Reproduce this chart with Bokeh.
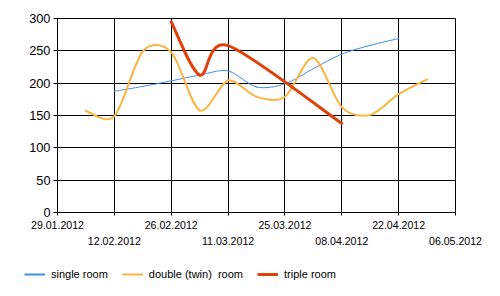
import datetime as dt
from bokeh.plotting import figure
from bokeh.layouts import column
from bokeh.models import (Range1d, FixedTicker, CustomJSTickFormatter, DatetimeAxis,
                          Legend, LegendItem, Grid)
from bokeh.embed import file_html
from bokeh.resources import INLINE

# ---- data ----
tick_labels = ["29.01.2012", "12.02.2012", "26.02.2012", "11.03.2012",
               "25.03.2012", "08.04.2012", "22.04.2012", "06.05.2012"]
y_ticks = [0, 50, 100, 150, 200, 250, 300]

single_dates = ["12.02.2012", "19.02.2012", "26.02.2012", "04.03.2012", "11.03.2012",
                "18.03.2012", "25.03.2012", "01.04.2012", "08.04.2012", "15.04.2012",
                "22.04.2012"]
single_vals = [187.5, 195, 203.5, 212.5, 219, 194, 199, 222.5, 245, 258.5, 269]

double_dates = ["05.02.2012", "12.02.2012", "19.02.2012", "26.02.2012", "04.03.2012",
                "11.03.2012", "18.03.2012", "25.03.2012", "01.04.2012", "08.04.2012",
                "15.04.2012", "22.04.2012", "29.04.2012"]
double_vals = [157, 149, 249, 248, 158, 204, 179, 179, 239, 163, 151, 183, 206]

triple_dates = ["26.02.2012", "04.03.2012", "11.03.2012", "08.04.2012"]
triple_vals = [295, 212.5, 258, 137.6]

BLUE, ORANGE, RED = "#418CF0", "#FCB441", "#E0400A"
FONT = "Liberation Sans"
TENSION = 0.15


def ms(s):
    d = dt.datetime.strptime(s, "%d.%m.%Y")
    return (d - dt.datetime(1970, 1, 1)).total_seconds() * 1000.0


def spline(xs, ys, k=TENSION):
    n = len(xs)
    out = dict(x0=[], y0=[], x1=[], y1=[], cx0=[], cy0=[], cx1=[], cy1=[])
    def tan(i):
        a = max(i - 1, 0)
        b = min(i + 1, n - 1)
        return k * (xs[b] - xs[a]), k * (ys[b] - ys[a])
    for i in range(n - 1):
        t0 = tan(i)
        t1 = tan(i + 1)
        out["x0"].append(xs[i]); out["y0"].append(ys[i])
        out["x1"].append(xs[i + 1]); out["y1"].append(ys[i + 1])
        out["cx0"].append(xs[i] + t0[0]); out["cy0"].append(ys[i] + t0[1])
        out["cx1"].append(xs[i + 1] - t1[0]); out["cy1"].append(ys[i + 1] - t1[1])
    return out


start = ms(tick_labels[0])
end = ms(tick_labels[-1])
tick_ms = [ms(s) for s in tick_labels]

xr = Range1d(start, end)
yr = Range1d(0, 300)
p = figure(width=500, height=260, x_axis_type=None, output_backend="svg",
           toolbar_location=None, x_range=xr, y_range=yr,
           min_border_left=57, min_border_right=45, min_border_top=18, min_border_bottom=48)
p.background_fill_color = "white"
p.border_fill_color = "white"
p.outline_line_color = "black"
p.frame_align = False

# x axes (staggered labels)
fmt_code = """
const i = Math.round((tick - start) / (14 * 86400000));
return (i %% 2 == %d) ? labels[i] : "";
"""
ax1 = DatetimeAxis(ticker=FixedTicker(ticks=tick_ms),
                   formatter=CustomJSTickFormatter(args=dict(start=start, labels=tick_labels), code=fmt_code % 0))
ax1.major_tick_out = 3
ax1.major_tick_in = 0
ax1.minor_tick_out = 0
ax1.minor_tick_in = 0
ax1.major_label_standoff = 5
ax1.axis_line_color = "black"
ax1.major_tick_line_color = "black"
ax1.major_label_text_font = FONT
ax1.major_label_text_font_size = "10.6px"
ax1.major_label_text_color = "black"
p.add_layout(ax1, "below")

ax2 = DatetimeAxis(ticker=FixedTicker(ticks=tick_ms),
                   formatter=CustomJSTickFormatter(args=dict(start=start, labels=tick_labels), code=fmt_code % 1))
ax2.major_tick_out = 0
ax2.major_tick_in = 0
ax2.minor_tick_out = 0
ax2.minor_tick_in = 0
ax2.major_label_standoff = 5
ax2.axis_line_color = None
ax2.major_tick_line_color = None
ax2.major_label_text_font = FONT
ax2.major_label_text_font_size = "10.6px"
ax2.major_label_text_color = "black"
p.add_layout(ax2, "below")

p.yaxis.ticker = FixedTicker(ticks=y_ticks)
p.yaxis.major_tick_out = 4
p.yaxis.major_tick_in = 0
p.yaxis.minor_tick_out = 0
p.yaxis.minor_tick_in = 0
p.yaxis.major_label_standoff = 3
p.yaxis.axis_line_color = "black"
p.yaxis.major_tick_line_color = "black"
p.yaxis.major_label_text_font = FONT
p.yaxis.major_label_text_font_size = "12.8px"
p.yaxis.major_label_text_color = "black"

p.ygrid.grid_line_color = "black"
p.ygrid.grid_line_alpha = 1
p.add_layout(Grid(dimension=0, ticker=FixedTicker(ticks=tick_ms),
                  grid_line_color="black", grid_line_alpha=1))

# legend figure below the chart
lf = figure(width=500, height=36, x_axis_type=None, y_axis_type=None, output_backend="svg",
            toolbar_location=None, x_range=xr, y_range=yr, min_border=0)
lf.outline_line_color = None
lf.xgrid.visible = False
lf.ygrid.visible = False
lf.background_fill_color = "white"
lf.border_fill_color = "white"
lf.frame_align = False

series = [
    ("single room", single_dates, single_vals, BLUE, 1, 2),
    ("double (twin)  room", double_dates, double_vals, ORANGE, 2, 2),
    ("triple room", triple_dates, triple_vals, RED, 3, 3),
]
items = []
for name, dates, vals, col, lw, lw_leg in series:
    xs = [ms(d) for d in dates]
    seg = spline(xs, vals)
    p.bezier(x0="x0", y0="y0", x1="x1", y1="y1", cx0="cx0", cy0="cy0", cx1="cx1", cy1="cy1",
             source=seg, line_color=col, line_width=lw, line_cap="round")
    r = lf.line(x=[xs[0]], y=[vals[0]], line_color=col, line_width=lw_leg)
    items.append(LegendItem(label=name, renderers=[r]))

legend = Legend(items=items, orientation="horizontal", location=(24, 15.5),
                padding=0, margin=0, spacing=14, glyph_width=21, glyph_height=14,
                label_height=14, label_standoff=6, label_text_font=FONT,
                label_text_font_size="11px", label_text_color="black",
                border_line_color=None, background_fill_alpha=0)
lf.add_layout(legend, "center")

layout = column(p, lf, spacing=0)
open("out.html", "w").write(file_html(layout, INLINE))
